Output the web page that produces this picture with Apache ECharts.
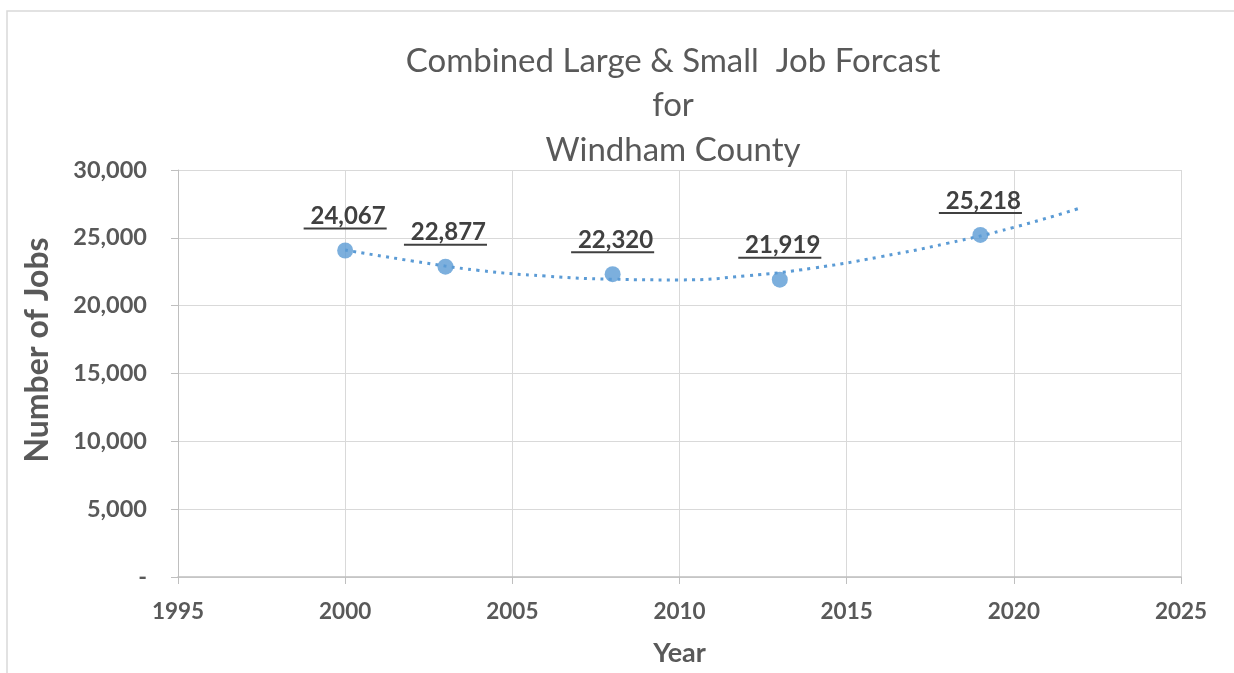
<!DOCTYPE html>
<html>
<head>
<meta charset="utf-8">
<script src="https://cdn.jsdelivr.net/npm/echarts@6/dist/echarts.min.js"></script>
<style>html,body{margin:0;padding:0;background:#fff}#c{width:1234px;height:673px}</style>
</head>
<body>
<div id="c"></div>
<script>
// Data
const years = [2000, 2003, 2008, 2013, 2019];
const jobs = [24067, 22877, 22320, 21919, 25218];
// Trendline
const trendYears = [2000, 2002, 2004, 2006, 2008, 2010, 2012, 2014, 2016, 2018, 2020, 2022];
const trendJobs = [24100, 23300, 22600, 22180, 21950, 21900, 22200, 22770, 23600, 24590, 25770, 27210];
const titleLines = ['Combined Large & Small  Job Forcast', 'for', 'Windham County'];
const xAxisName = 'Year';
const yAxisName = 'Number of Jobs';

const FONT = 'Lato, "Open Sans", sans-serif';
const fmt = v => v === 0 ? '-' : v.toLocaleString('en-US');
const measureCtx = document.createElement('canvas').getContext('2d');
const labelFont = 'bold 24px ' + FONT;
function textWidth(t) { measureCtx.font = labelFont; return measureCtx.measureText(t).width; }

const chart = echarts.init(document.getElementById('c'));
chart.setOption({
  animation: false,
  backgroundColor: '#fff',
  title: {
    text: titleLines.join('\n'),
    left: 668, top: 34, textAlign: 'center',
    textStyle: { fontFamily: FONT, fontWeight: 'normal', fontSize: 33, color: '#595959', lineHeight: 44.5 }
  },
  graphic: [
    { type: 'rect', shape: { x: 7, y: 11, width: 1250, height: 700 }, style: { fill: 'none', stroke: '#D9D9D9', lineWidth: 1.5 }, silent: true }
  ],
  grid: { left: 178, right: 53, top: 170, bottom: 96 },
  xAxis: {
    type: 'value', min: 1995, max: 2025, interval: 5,
    name: xAxisName, nameLocation: 'middle', nameGap: 63,
    nameTextStyle: { fontFamily: FONT, fontWeight: 'bold', fontSize: 27, color: '#595959' },
    axisLine: { show: true, lineStyle: { color: '#BFBFBF', width: 1.5 } },
    axisTick: { show: true, length: 7, lineStyle: { color: '#BFBFBF' } },
    axisLabel: { margin: 23, fontFamily: FONT, fontWeight: 'bold', fontSize: 22.5, color: '#595959', formatter: v => String(v) },
    splitLine: { show: true, lineStyle: { color: '#D9D9D9', width: 1 } }
  },
  yAxis: {
    type: 'value', min: 0, max: 30000, interval: 5000,
    name: yAxisName, nameLocation: 'middle', nameGap: 124, nameRotate: 90,
    nameTextStyle: { fontFamily: FONT, fontWeight: 'bold', fontSize: 32, color: '#595959', padding: [0, 0, 0, 47] },
    axisLine: { show: true, lineStyle: { color: '#BFBFBF', width: 1 } },
    axisTick: { show: true, length: 7, lineStyle: { color: '#BFBFBF' } },
    axisLabel: { margin: 31, fontFamily: FONT, fontWeight: 'bold', fontSize: 23.5, color: '#595959', formatter: fmt },
    splitLine: { show: true, lineStyle: { color: '#D9D9D9', width: 1 } }
  },
  series: [
    {
      type: 'line', name: 'Trend',
      data: trendYears.map((y, i) => [y, trendJobs[i]]),
      smooth: true, showSymbol: false, z: 2,
      lineStyle: { color: '#5B9BD5', width: 3, type: [3, 5.3] }
    },
    {
      type: 'scatter', name: 'Jobs',
      data: years.map((y, i) => [y, jobs[i]]),
      symbolSize: 16, z: 3,
      itemStyle: { color: '#5B9BD5' }
    },
    {
      type: 'custom', name: 'Labels', z: 4,
      data: years.map((y, i) => [y, jobs[i]]),
      renderItem: function (params, api) {
        const p = api.coord([api.value(0), api.value(1)]);
        const txt = ' ' + fmt(api.value(1));
        const w = textWidth(txt) + 2;
        return {
          type: 'group',
          children: [
            { type: 'text', style: { text: txt, x: p[0], y: p[1] - 34, align: 'center', verticalAlign: 'middle', font: labelFont, fill: '#404040' } },
            { type: 'rect', shape: { x: p[0] - w / 2, y: p[1] - 23, width: w, height: 2 }, style: { fill: '#404040' } }
          ]
        };
      }
    }
  ]
});
</script>
</body>
</html>
